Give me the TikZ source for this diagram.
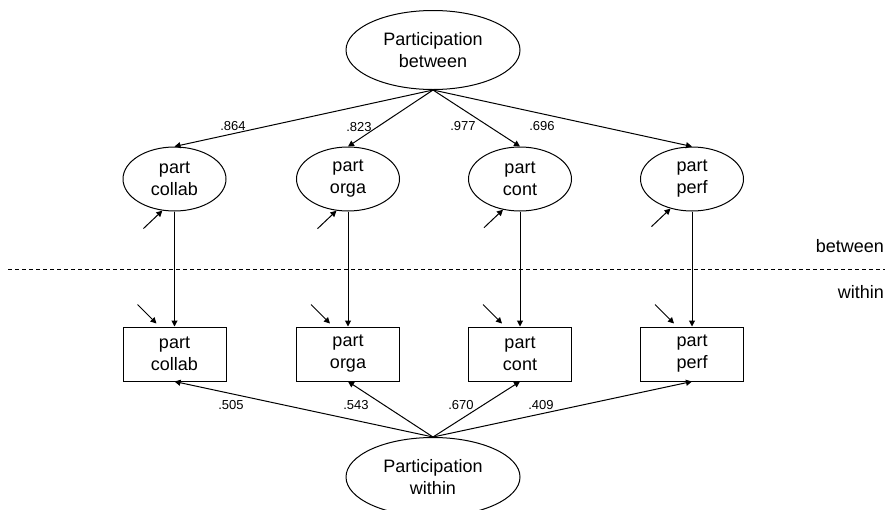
\documentclass[tikz,border=0pt]{standalone}
\usepackage{fontspec}
\setmainfont{Liberation Sans}
\usetikzlibrary{shapes.geometric,arrows.meta,calc}
\begin{document}
\begin{tikzpicture}[x=1pt,y=-1pt,
  every node/.style={font=\fontsize{18}{22}\selectfont},
  bigell/.style={ellipse,draw,line width=1pt,minimum width=174pt,minimum height=79pt,inner sep=0pt,align=center},
  smallell/.style={ellipse,draw,line width=1pt,minimum width=103pt,minimum height=64pt,inner sep=0pt,align=center},
  obs/.style={rectangle,draw,line width=1pt,minimum width=103pt,minimum height=54pt,inner sep=0pt,align=center},
  arr/.style={-{Triangle[length=6pt,width=6pt]},line width=1pt},
  coef/.style={font=\fontsize{13}{15}\selectfont,inner sep=0pt},
  lvl/.style={anchor=east,inner sep=0pt},
  sep/.style={line width=1pt,dash pattern=on 4pt off 3pt}
]
\useasboundingbox (0,0) rectangle (885,509);
\node[bigell] (pb) at (433,50) {Participation\\between};
\node[bigell] (pw) at (433,477) {Participation\\within};
\foreach \nm/\x/\a in {collab/174.5/249, orga/348/250, cont/520/241, perf/692/234} {
  \node[smallell] (L\nm) at (\x,179) {part\\\nm};
  \node[obs] (O\nm) at (\x,354) {part\\\nm};
  \draw[arr] (L\nm.south) -- (O\nm.north);
  \draw[arr] (pb.south) -- (L\nm.north);
  \draw[arr] (pw.north) -- (O\nm.south);
  \coordinate (rl\nm) at ($(L\nm.\a)+(-19,18)$);
  \draw[arr] (rl\nm) -- (L\nm.\a);
  \coordinate (tb\nm) at ($(O\nm.north)+(-18,-3)$);
  \coordinate (ro\nm) at ($(tb\nm)+(-19,-19)$);
  \draw[arr] (ro\nm) -- (tb\nm);
}
\node[coef] (c1) at (233,126) {.864};
\node[coef] (c2) at (359,127) {.823};
\node[coef] (c3) at (463,126) {.977};
\node[coef] (c4) at (542,126) {.696};
\node[coef] (d1) at (231,405) {.505};
\node[coef] (d2) at (356,405) {.543};
\node[coef] (d3) at (461,405) {.670};
\node[coef] (d4) at (541,405) {.409};
\coordinate (sl) at (8,269);
\coordinate (sr) at (885,269);
\draw[sep] (sl) -- (sr);
\node[lvl] (tbw) at (884,246) {between};
\node[lvl] (twi) at (884,292) {within};
\end{tikzpicture}
\end{document}
